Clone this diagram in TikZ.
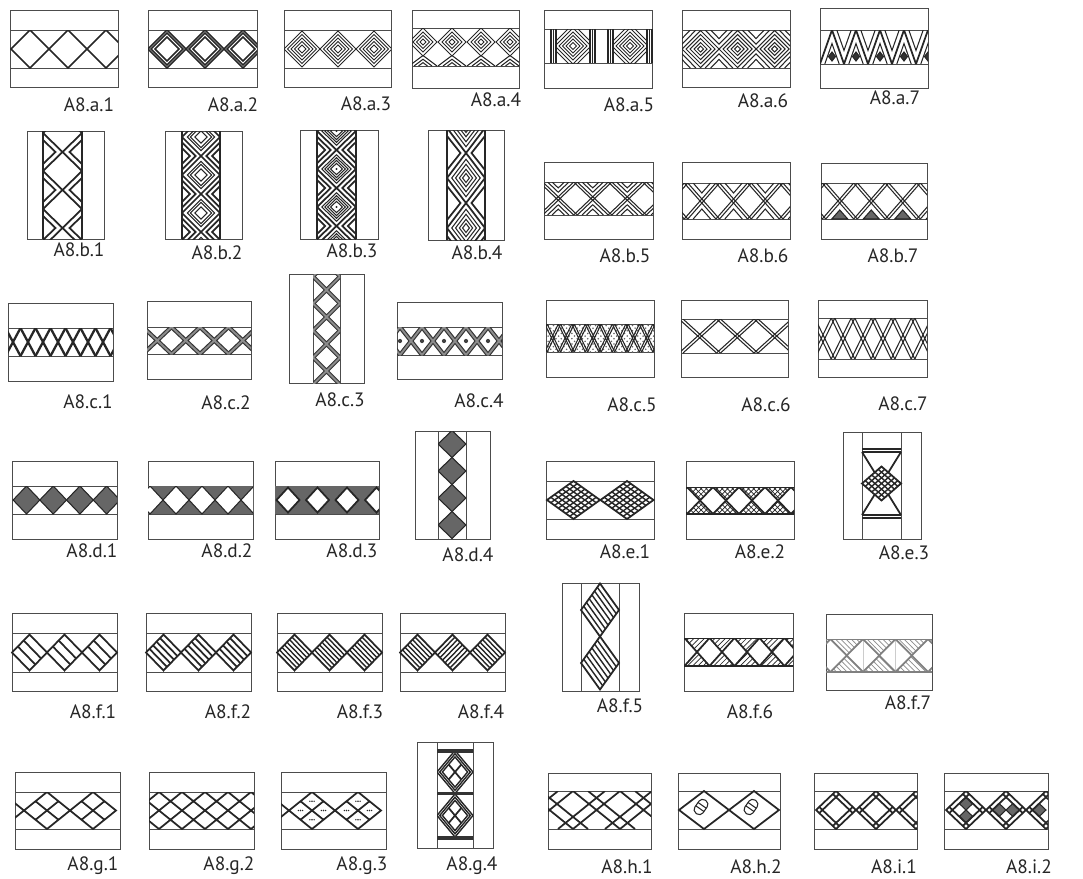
\documentclass[tikz,border=0pt]{standalone}
\usepackage{fontspec}
\setmainfont{PT Sans}
\usetikzlibrary{patterns}

\begin{document}
\begin{tikzpicture}[
    x=0.02cm, y=-0.02cm,
    frame/.style={draw=black!70, line width=0.55pt},
    strip/.style={draw=black!85, line width=0.9pt},
    motif/.style={draw=black!85, line width=1pt},
    fine/.style={draw=black!85, line width=0.6pt},
    ribbon/.style={draw=black!80, line width=2.4pt},
    ribbonfill/.style={draw=black!45, line width=1.1pt},
    bar/.style={draw=black!80, line width=1.8pt},
    dark/.style={fill=black!60},
    lbl/.style={font=\fontsize{11}{13}\selectfont, text=black!85, inner sep=0pt},
]
    \useasboundingbox (0,0) rectangle (1083,879);

    % row a
    \draw[frame] (10,10) rectangle (118,87) (10,30) -- (118,30) (10,68) -- (118,68);
    \begin{scope}
        \clip (10,30) rectangle (118,68);
        \foreach \c in {30,68,106}
            \draw[motif] ({\c-19},49) -- (\c,30) -- ({\c+19},49) -- (\c,68) -- cycle;
    \end{scope}
    \node[lbl] (a1) at (89,105) {A8.a.1};

    \draw[frame] (148,10) rectangle (257,87) (148,30) -- (257,30) (148,68) -- (257,68);
    \begin{scope}
        \clip (148,30) rectangle (257,68);
        \foreach \c in {167,205,243}
            \foreach \h in {19,16,12}
                \draw[motif] ({\c-\h},49) -- (\c,{49-\h}) -- ({\c+\h},49) -- (\c,{49+\h}) -- cycle;
    \end{scope}
    \node[lbl] (a2) at (233,105) {A8.a.2};

    \draw[frame] (284,10) rectangle (391,87) (284,30) -- (391,30) (284,68) -- (391,68);
    \begin{scope}
        \clip (284,30) rectangle (391,68);
        \foreach \c in {302,338,374}
            \foreach \h in {18,14.5,11,7.5,4}
                \draw[fine] ({\c-\h},49) -- (\c,{49-\h}) -- ({\c+\h},49) -- (\c,{49+\h}) -- cycle;
    \end{scope}
    \node[lbl] (a3) at (366,104) {A8.a.3};

    \draw[frame] (412,10) rectangle (519,88) (412,28) -- (519,28) (412,66) -- (519,66);
    \begin{scope}
        \clip (412,28) rectangle (519,66);
        \foreach \c in {423,452,481,510} {
            \foreach \h in {14,10,6.5,3}
                \draw[fine] ({\c-\h},42) -- (\c,{42-\h}) -- ({\c+\h},42) -- (\c,{42+\h}) -- cycle;
            \foreach \h in {14,9,4.5}
                \draw[fine] ({\c-\h},66) -- (\c,{66-0.75*\h}) -- ({\c+\h},66);
        }
    \end{scope}
    \node[lbl] (a4) at (496,100) {A8.a.4};

    \draw[frame] (544,10) rectangle (652,88) (544,29) -- (652,29) (544,63) -- (652,63);
    \foreach \c in {573,630} {
        \begin{scope}
            \clip ({\c-17},29) rectangle ({\c+17},63);
            \foreach \h in {3.5,7,10.5,14,18,22}
                \draw[fine] ({\c-\h},46) -- (\c,{46-\h}) -- ({\c+\h},46) -- (\c,{46+\h}) -- cycle;
        \end{scope}
        \foreach \d in {17,19.5,22}
            \draw[fine] ({\c-\d},29) -- ({\c-\d},63) ({\c+\d},29) -- ({\c+\d},63);
    }
    \node[lbl] (a5) at (629,105) {A8.a.5};

    \draw[frame] (682,10) rectangle (790,87) (682,30) -- (790,30) (682,68) -- (790,68);
    \begin{scope}
        \clip (682,30) rectangle (790,68);
        \foreach \c in {700.5,737.5,774.5}
            \foreach \h in {18.5,14.5,10.5,6.5,3}
                \draw[fine] ({\c-\h},49) -- (\c,{49-\h}) -- ({\c+\h},49) -- (\c,{49+\h}) -- cycle;
        \foreach \x in {682,719,756,793}
            \foreach \s in {0.75,0.45}
                \draw[fine] ({\x-18.5*\s},30) -- (\x,{30+19*\s}) -- ({\x+18.5*\s},30)
                            ({\x-18.5*\s},68) -- (\x,{68-19*\s}) -- ({\x+18.5*\s},68);
    \end{scope}
    \node[lbl] (a6) at (763,101) {A8.a.6};

    \draw[frame] (820,8) rectangle (928,88) (820,30) -- (928,30) (820,64) -- (928,64);
    \begin{scope}
        \clip (820,30) rectangle (928,64);
        \foreach \k in {0,...,4} {
            \draw[motif] ({820+24*\k},64) -- ({832+24*\k},30) -- ({844+24*\k},64);
            \draw[fine] ({824.8+24*\k},64) -- ({832+24*\k},43.6) -- ({839.2+24*\k},64)
                        ({836.8+24*\k},30) -- ({844+24*\k},50.4) -- ({851.2+24*\k},30);
            \draw[fine, fill=black!80] ({832+24*\k},52) -- ++(3.5,4.5) -- ++(-3.5,4.5) -- ++(-3.5,-4.5) -- cycle;
        }
    \end{scope}
    \node[lbl] (a7) at (895,98) {A8.a.7};

    % row b
    \draw[frame] (27,131) rectangle (104,239);
    \draw[strip] (43,131) -- (43,239) (82,131) -- (82,239);
    \begin{scope}
        \clip (43,131) rectangle (82,239);
        \foreach \k in {-1,...,3}
            \draw[motif] (43,{133+38*\k}) -- (82,{171+38*\k}) (82,{133+38*\k}) -- (43,{171+38*\k})
                         (43,{140+38*\k}) -- (55.5,{152+38*\k}) -- (43,{164+38*\k})
                         (82,{140+38*\k}) -- (69.5,{152+38*\k}) -- (82,{164+38*\k});
    \end{scope}
    \node[lbl] (b1) at (79,250) {A8.b.1};

    \draw[frame] (165,131) rectangle (242,239);
    \draw[strip] (182,131) -- (182,239) (220,131) -- (220,239);
    \begin{scope}
        \clip (182,131) rectangle (220,239);
        \foreach \k in {-1,...,3} {
            \draw[motif] (182,{137+38*\k}) -- (220,{175+38*\k}) (220,{137+38*\k}) -- (182,{175+38*\k});
            \foreach \s in {0.72,0.42}
                \draw[motif] (182,{156+38*\k-19*\s}) -- ({182+19*\s},{156+38*\k}) -- (182,{156+38*\k+19*\s})
                             (220,{156+38*\k-19*\s}) -- ({220-19*\s},{156+38*\k}) -- (220,{156+38*\k+19*\s});
            \foreach \s in {0.72,0.56,0.32}
                \draw[fine] ({201-19*\s},{137+38*\k}) -- (201,{137+38*\k-19*\s}) -- ({201+19*\s},{137+38*\k}) -- (201,{137+38*\k+19*\s}) -- cycle;
        }
    \end{scope}
    \node[lbl] (b2) at (217,253) {A8.b.2};

    \draw[frame] (300,130) rectangle (378,239);
    \draw[strip] (317,130) -- (317,239) (356,130) -- (356,239);
    \begin{scope}
        \clip (317,130) rectangle (356,239);
        \foreach \k in {-1,...,3} {
            \draw[motif] (317,{131+38*\k}) -- (356,{169+38*\k}) (356,{131+38*\k}) -- (317,{169+38*\k});
            \foreach \s in {0.7,0.42}
                \draw[motif] (317,{150+38*\k-19*\s}) -- ({317+19.5*\s},{150+38*\k}) -- (317,{150+38*\k+19*\s})
                             (356,{150+38*\k-19*\s}) -- ({356-19.5*\s},{150+38*\k}) -- (356,{150+38*\k+19*\s});
            \foreach \s in {0.75,0.6,0.45,0.3}
                \draw[fine] ({336.5-19.5*\s},{131+38*\k}) -- (336.5,{131+38*\k-19*\s}) -- ({336.5+19.5*\s},{131+38*\k}) -- (336.5,{131+38*\k+19*\s}) -- cycle;
            \fill[black!85] (336.5,{131+38*\k}) circle[radius=0.7pt];
        }
    \end{scope}
    \node[lbl] (b3) at (352,251) {A8.b.3};

    \draw[frame] (428,130) rectangle (504,240);
    \draw[strip] (447,130) -- (447,240) (485,130) -- (485,240);
    \begin{scope}
        \clip (447,130) rectangle (485,240);
        \foreach \k in {-1,...,2} {
            \draw[motif] (447,{128+50*\k}) -- (485,{178+50*\k}) (485,{128+50*\k}) -- (447,{178+50*\k});
            \draw[motif] (447,{153+50*\k-17}) -- (460.5,{153+50*\k}) -- (447,{153+50*\k+17})
                         (485,{153+50*\k-17}) -- (471.5,{153+50*\k}) -- (485,{153+50*\k+17});
            \foreach \s in {0.75,0.55,0.35,0.18}
                \draw[fine] ({466-19*\s},{128+50*\k}) -- (466,{128+50*\k-25*\s}) -- ({466+19*\s},{128+50*\k}) -- (466,{128+50*\k+25*\s}) -- cycle;
        }
    \end{scope}
    \node[lbl] (b4) at (477,253) {A8.b.4};

    \draw[frame] (544,162) rectangle (653,239) (544,182) -- (653,182) (544,215) -- (653,215);
    \begin{scope}
        \clip (544,182) rectangle (653,215);
        \foreach \k in {0,...,3} {
            \foreach \d in {-1.8,1.8}
                \draw[fine] ({541+34.5*\k+\d},182) -- ({575.5+34.5*\k+\d},215) ({541+34.5*\k+\d},215) -- ({575.5+34.5*\k+\d},182);
            \foreach \s in {0.62,0.36}
                \draw[fine] ({558.25+34.5*\k-17.25*\s},182) -- ({558.25+34.5*\k},{182+16.5*\s}) -- ({558.25+34.5*\k+17.25*\s},182)
                            ({558.25+34.5*\k-17.25*\s},215) -- ({558.25+34.5*\k},{215-16.5*\s}) -- ({558.25+34.5*\k+17.25*\s},215);
        }
    \end{scope}
    \node[lbl] (b5) at (625,256) {A8.b.5};

    \draw[frame] (682,162) rectangle (790,239) (682,183) -- (790,183) (682,219) -- (790,219);
    \begin{scope}
        \clip (682,183) rectangle (790,219);
        \foreach \k in {-1,...,3} {
            \foreach \d in {-1.8,1.8}
                \draw[fine] ({686+31.7*\k+\d},183) -- ({717.7+31.7*\k+\d},219) ({686+31.7*\k+\d},219) -- ({717.7+31.7*\k+\d},183);
            \draw[fine] ({701.85+31.7*\k-8.7},183) -- ({701.85+31.7*\k},193) -- ({701.85+31.7*\k+8.7},183)
                        ({701.85+31.7*\k-8.7},219) -- ({701.85+31.7*\k},209) -- ({701.85+31.7*\k+8.7},219);
        }
    \end{scope}
    \node[lbl] (b6) at (763,256) {A8.b.6};

    \draw[frame] (821,163) rectangle (927,239) (821,183) -- (927,183) (821,219) -- (927,219);
    \begin{scope}
        \clip (821,183) rectangle (927,219);
        \foreach \k in {-1,...,3} {
            \foreach \d in {-1.8,1.8}
                \draw[fine] ({824+31.5*\k+\d},183) -- ({855.5+31.5*\k+\d},219) ({824+31.5*\k+\d},219) -- ({855.5+31.5*\k+\d},183);
            \draw[fine, dark] ({839.75+31.5*\k-8},219) -- ({839.75+31.5*\k},210) -- ({839.75+31.5*\k+8},219) -- cycle;
        }
    \end{scope}
    \node[lbl] (b7) at (893,256) {A8.b.7};

    % row c
    \draw[frame] (8,303) rectangle (113,381) (8,328) -- (113,328) (8,356) -- (113,356);
    \begin{scope}
        \clip (8,328) rectangle (113,356);
        \foreach \k in {0,...,7}
            \draw[motif, line width=1.3pt] ({5.5+15*\k},328) -- ({20.5+15*\k},356) ({5.5+15*\k},356) -- ({20.5+15*\k},328);
    \end{scope}
    \node[lbl] (c1) at (88,402) {A8.c.1};

    \draw[frame] (147,301) rectangle (251,379) (147,327) -- (251,327) (147,354) -- (251,354);
    \begin{scope}
        \clip (147,327) rectangle (251,354);
        \foreach \st in {ribbon,ribbonfill}
            \foreach \k in {0,...,4}
                \draw[\st] ({143+28.5*\k},327) -- ({171.5+28.5*\k},354) ({143+28.5*\k},354) -- ({171.5+28.5*\k},327);
    \end{scope}
    \node[lbl] (c2) at (226,403) {A8.c.2};

    \draw[frame] (289,274) rectangle (364,383) (313,274) -- (313,383) (340,274) -- (340,383);
    \begin{scope}
        \clip (313,274) rectangle (340,383);
        \foreach \st in {ribbon,ribbonfill}
            \foreach \k in {-1,...,4}
                \draw[\st] (313,{276.5+27*\k}) -- (340,{303.5+27*\k}) (340,{276.5+27*\k}) -- (313,{303.5+27*\k});
    \end{scope}
    \node[lbl] (c3) at (340,400) {A8.c.3};

    \draw[frame] (397,302) rectangle (502,379) (397,327) -- (502,327) (397,355) -- (502,355);
    \begin{scope}
        \clip (397,327) rectangle (502,355);
        \foreach \st in {ribbon,ribbonfill}
            \foreach \k in {-1,...,4}
                \draw[\st] ({400+22*\k},327) -- ({422+22*\k},355) ({400+22*\k},355) -- ({422+22*\k},327);
        \foreach \k in {0,...,4}
            \fill[black!75] ({400+22*\k},341) circle[radius=1.2pt];
    \end{scope}
    \node[lbl] (c4) at (479,401) {A8.c.4};

    \draw[frame] (546,300) rectangle (654,377) (546,324) -- (654,324) (546,352) -- (654,352);
    \begin{scope}
        \clip (546,324) rectangle (654,352);
        \fill[pattern=crosshatch dots, pattern color=black!60] (546,324) rectangle (654,352);
        \foreach \k in {-1,...,8}
            \foreach \d in {-1.2,1.2}
                \draw[fine] ({546+13.5*\k+\d},324) -- ({559.5+13.5*\k+\d},352) ({546+13.5*\k+\d},352) -- ({559.5+13.5*\k+\d},324);
    \end{scope}
    \node[lbl] (c5) at (632,405) {A8.c.5};

    \draw[frame] (681,300) rectangle (788,377) (681,319) -- (788,319) (681,353) -- (788,353);
    \begin{scope}
        \clip (681,319) rectangle (788,353);
        \foreach \k in {0,...,2}
            \foreach \d in {-2,2}
                \draw[fine] ({681+37.5*\k+\d},319) -- ({718.5+37.5*\k+\d},353) ({681+37.5*\k+\d},353) -- ({718.5+37.5*\k+\d},319);
    \end{scope}
    \node[lbl] (c6) at (766,405) {A8.c.6};

    \draw[frame] (818,300) rectangle (927,377) (818,318) -- (927,318) (818,359) -- (927,359);
    \begin{scope}
        \clip (818,318) rectangle (927,359);
        \foreach \k in {0,...,5}
            \foreach \d in {-1.8,1.8}
                \draw[fine] ({813+20*\k+\d},318) -- ({833+20*\k+\d},359) ({813+20*\k+\d},359) -- ({833+20*\k+\d},318);
    \end{scope}
    \node[lbl] (c7) at (903,404) {A8.c.7};

    % row d
    \draw[frame] (12,461) rectangle (117,539) (12,486) -- (117,486) (12,514) -- (117,514);
    \begin{scope}
        \clip (12,486) rectangle (117,514);
        \foreach \c in {26.5,53.2,79.9,106.6}
            \draw[fine, dark] ({\c-13.4},500) -- (\c,486) -- ({\c+13.4},500) -- (\c,514) -- cycle;
    \end{scope}
    \node[lbl] (d1) at (92,551) {A8.d.1};

    \draw[frame] (148,461) rectangle (253,539) (148,486) -- (253,486) (148,514) -- (253,514);
    \begin{scope}
        \clip (148,486) rectangle (253,514);
        \fill[black!60] (148,486) rectangle (253,514);
        \foreach \c in {150,176,202,228,254}
            \draw[fine, fill=white] ({\c-13},500) -- (\c,486) -- ({\c+13},500) -- (\c,514) -- cycle;
    \end{scope}
    \node[lbl] (d2) at (227,551) {A8.d.2};

    \draw[frame] (275,461) rectangle (379,539) (275,486) -- (379,486) (275,514) -- (379,514);
    \begin{scope}
        \clip (275,486) rectangle (379,514);
        \fill[black!60] (275,486) rectangle (379,514);
        \foreach \c in {288,317.5,347,376.5}
            \draw[motif, fill=white] ({\c-11.5},500) -- (\c,487.5) -- ({\c+11.5},500) -- (\c,512.5) -- cycle;
    \end{scope}
    \node[lbl] (d3) at (352,551) {A8.d.3};

    \draw[frame] (415,431) rectangle (490,539) (438,431) -- (438,539) (466,431) -- (466,539);
    \begin{scope}
        \clip (438,431) rectangle (466,539);
        \foreach \y in {444,471,498,525}
            \draw[fine, dark] (438,\y) -- (452,{\y-13.5}) -- (466,\y) -- (452,{\y+13.5}) -- cycle;
    \end{scope}
    \node[lbl] (d4) at (468,555) {A8.d.4};

    % row e
    \draw[frame] (546,461) rectangle (654,539) (546,481) -- (654,481) (546,519) -- (654,519);
    \foreach \c in {573.5,627} {
        \begin{scope}
            \clip ({\c-26.5},500) -- (\c,481) -- ({\c+26.5},500) -- (\c,519) -- cycle;
            \foreach \i in {1,...,6}
                \draw[motif, line width=0.8pt] ({\c-26.5+26.5*\i/7},{500+19*\i/7}) -- ({\c+26.5*\i/7},{481+19*\i/7})
                    ({\c-26.5+26.5*\i/7},{500-19*\i/7}) -- ({\c+26.5*\i/7},{519-19*\i/7});
        \end{scope}
        \draw[motif] ({\c-26.5},500) -- (\c,481) -- ({\c+26.5},500) -- (\c,519) -- cycle;
    }
    \node[lbl] (e1) at (625,552) {A8.e.1};

    \draw[frame] (686,461) rectangle (794,539) (686,487) -- (794,487) (686,514) -- (794,514);
    \begin{scope}
        \clip (686,487) rectangle (794,514);
        \foreach \k in {-1,...,4}
            \draw[motif, pattern=crosshatch, pattern color=black!85]
                ({687+26*\k},487) -- ({713+26*\k},487) -- ({700+26*\k},500.5) -- cycle
                ({687+26*\k},514) -- ({713+26*\k},514) -- ({700+26*\k},500.5) -- cycle;
    \end{scope}
    \node[lbl] (e2) at (760,552) {A8.e.2};

    \draw[frame] (843,432) rectangle (921,539) (862,432) -- (862,539) (901,432) -- (901,539);
    \draw[motif] (862,449) -- (901,449) (862,452) -- (901,452) (862,515) -- (901,515) (862,518) -- (901,518)
                 (862,452) -- (901,515) (901,452) -- (862,515);
    \begin{scope}
        \clip (862,483.5) -- (881.5,466.5) -- (901,483.5) -- (881.5,500.5) -- cycle;
        \fill[white] (862,466) rectangle (901,501);
        \foreach \i in {1,...,5}
            \draw[motif, line width=0.8pt] ({862+19.5*\i/6},{483.5+17*\i/6}) -- ({881.5+19.5*\i/6},{466.5+17*\i/6})
                ({862+19.5*\i/6},{483.5-17*\i/6}) -- ({881.5+19.5*\i/6},{500.5-17*\i/6});
    \end{scope}
    \draw[motif] (862,483.5) -- (881.5,466.5) -- (901,483.5) -- (881.5,500.5) -- cycle;
    \node[lbl] (e3) at (904,553) {A8.e.3};

    % row f
    \draw[frame] (12,613) rectangle (117,691) (12,633) -- (117,633) (12,672) -- (117,672);
    \foreach \c in {29.5,64.5,99.5} {
        \draw[motif] ({\c-17.5},652.5) -- (\c,634.5) -- ({\c+17.5},652.5) -- (\c,670.5) -- cycle;
        \foreach \i in {1,2}
            \draw[motif] ({\c-17.5+17.5*\i/3},{652.5-18*\i/3}) -- ({\c+17.5*\i/3},{670.5-18*\i/3});
    }
    \node[lbl] (f1) at (93,712) {A8.f.1};

    \draw[frame] (146,613) rectangle (251,691) (146,633) -- (251,633) (146,672) -- (251,672);
    \foreach \c in {163.5,198.5,233.5} {
        \draw[motif] ({\c-17.5},652.5) -- (\c,634.5) -- ({\c+17.5},652.5) -- (\c,670.5) -- cycle;
        \foreach \i in {1,...,4}
            \draw[motif] ({\c-17.5+17.5*\i/5},{652.5-18*\i/5}) -- ({\c+17.5*\i/5},{670.5-18*\i/5});
    }
    \node[lbl] (f2) at (228,712) {A8.f.2};

    \draw[frame] (277,613) rectangle (382,691) (277,633) -- (382,633) (277,672) -- (382,672);
    \foreach \c in {294.5,329.5,364.5} {
        \draw[motif] ({\c-17.5},652.5) -- (\c,634.5) -- ({\c+17.5},652.5) -- (\c,670.5) -- cycle;
        \foreach \i in {1,...,6}
            \draw[fine, line width=0.8pt] ({\c-17.5+17.5*\i/7},{652.5-18*\i/7}) -- ({\c+17.5*\i/7},{670.5-18*\i/7});
    }
    \node[lbl] (f3) at (360,712) {A8.f.3};

    \draw[frame] (400,613) rectangle (505,691) (400,633) -- (505,633) (400,672) -- (505,672);
    \foreach \c in {417.5,452.5,487.5}
        \draw[motif] ({\c-17.5},652.5) -- (\c,634.5) -- ({\c+17.5},652.5) -- (\c,670.5) -- cycle;
    \foreach \c in {417.5,487.5}
        \foreach \i in {1,...,6}
            \draw[fine, line width=0.8pt] ({\c-17.5+17.5*\i/7},{652.5-18*\i/7}) -- ({\c+17.5*\i/7},{670.5-18*\i/7});
    \foreach \i in {1,...,6}
        \draw[fine, line width=0.8pt] ({435+17.5*\i/7},{652.5+18*\i/7}) -- ({452.5+17.5*\i/7},{634.5+18*\i/7});
    \node[lbl] (f4) at (481,712) {A8.f.4};

    \draw[frame] (562,583) rectangle (639,691) (581,583) -- (581,691) (619,583) -- (619,691);
    \foreach \y in {610,663} {
        \draw[motif] (581,\y) -- (600,{\y-26.5}) -- (619,\y) -- (600,{\y+26.5}) -- cycle;
        \foreach \i in {1,...,6}
            \draw[fine, line width=0.8pt] ({581+19*\i/7},{\y-26.5*\i/7}) -- ({600+19*\i/7},{\y+26.5-26.5*\i/7});
    }
    \node[lbl] (f5) at (620,706) {A8.f.5};

    \draw[frame] (684,613) rectangle (793,691) (684,638) -- (793,638) (684,666) -- (793,666);
    \begin{scope}
        \clip (684,638) rectangle (793,666);
        \foreach \k in {-1,...,4}
            \draw[motif, pattern=north east lines, pattern color=black!85]
                ({684.5+25*\k},638) -- ({709.5+25*\k},638) -- ({697+25*\k},652) -- cycle
                ({684.5+25*\k},666) -- ({709.5+25*\k},666) -- ({697+25*\k},652) -- cycle;
    \end{scope}
    \node[lbl] (f6) at (750,712) {A8.f.6};

    \draw[frame] (826,614) rectangle (932,690) (826,639) -- (932,639) (826,672) -- (932,672);
    \begin{scope}
        \clip (826,639) rectangle (932,672);
        \draw[black!20, line width=0.4pt] (863,639) -- (863,672) (895.5,639) -- (895.5,672);
        \foreach \k in {-1,...,3}
            \draw[draw=black!50, line width=1pt, pattern=north west lines, pattern color=black!45]
                ({830.5+32.5*\k},639) -- ({863+32.5*\k},639) -- ({846.75+32.5*\k},655.5) -- cycle
                ({830.5+32.5*\k},672) -- ({863+32.5*\k},672) -- ({846.75+32.5*\k},655.5) -- cycle;
    \end{scope}
    \node[lbl] (f7) at (908,703) {A8.f.7};

    % row g
    \draw[frame] (15,772) rectangle (120,849) (15,792) -- (120,792) (15,829) -- (120,829);
    \begin{scope}
        \clip (15,792) rectangle (120,829);
        \foreach \c in {1,47,93}
            \draw[motif] ({\c-23},810.5) -- (\c,792) -- ({\c+23},810.5) -- (\c,829) -- cycle
                ({\c-11.5},801.25) -- ({\c+11.5},819.75) ({\c-11.5},819.75) -- ({\c+11.5},801.25);
    \end{scope}
    \node[lbl] (g1) at (93,866) {A8.g.1};

    \draw[frame] (149,772) rectangle (254,849) (149,792) -- (254,792) (149,829) -- (254,829);
    \begin{scope}
        \clip (149,792) rectangle (254,829);
        \foreach \c in {136,182,228,274}
            \draw[motif] ({\c-23},810.5) -- (\c,792) -- ({\c+23},810.5) -- (\c,829) -- cycle
                ({\c-23},792) -- ({\c+23},829) ({\c-23},829) -- ({\c+23},792);
    \end{scope}
    \node[lbl] (g2) at (229,866) {A8.g.2};

    \draw[frame] (281,772) rectangle (386,849) (281,792) -- (386,792) (281,829) -- (386,829);
    \begin{scope}
        \clip (281,792) rectangle (386,829);
        \foreach \c in {266,312,358}
            \draw[motif] ({\c-23},810.5) -- (\c,792) -- ({\c+23},810.5) -- (\c,829) -- cycle
                ({\c-11.5},801.25) -- ({\c+11.5},819.75) ({\c-11.5},819.75) -- ({\c+11.5},801.25);
        \foreach \c in {312,358}
            \foreach \x/\y in {0/801.25,0/819.75,-11.5/810.5,11.5/810.5}
                \foreach \d in {-2.2,0,2.2}
                    \fill[black!85] ({\c+\x+\d},\y) circle[radius=0.45pt];
    \end{scope}
    \node[lbl] (g3) at (362,866) {A8.g.3};

    \draw[frame] (417,742) rectangle (493,848) (437,742) -- (437,848) (473,742) -- (473,848);
    \begin{scope}
        \clip (437,742) rectangle (473,848);
        \foreach \y in {772,815.5} {
            \foreach \s in {1,0.85,0.7}
                \draw[fine, line width=0.8pt] ({455-18*\s},\y) -- (455,{\y-21.5*\s}) -- ({455+18*\s},\y) -- (455,{\y+21.5*\s}) -- cycle;
            \draw[motif] ({455-6.3},{\y-7.5}) -- ({455+6.3},{\y+7.5}) ({455-6.3},{\y+7.5}) -- ({455+6.3},{\y-7.5});
        }
        \draw[bar] (437,751) -- (473,751) (437,793.5) -- (473,793.5) (437,838) -- (473,838);
    \end{scope}
    \node[lbl] (g4) at (472,866) {A8.g.4};

    % rows h, i
    \draw[frame] (548,773) rectangle (651,849) (548,791) -- (651,791) (548,829) -- (651,829);
    \begin{scope}
        \clip (548,791) rectangle (651,829);
        \foreach \k in {-1,...,2}
            \draw[motif] ({573+47*\k},791) -- ({620+47*\k},829) ({573+47*\k},829) -- ({620+47*\k},791)
                ({588+47*\k},791) -- ({635+47*\k},829) ({558+47*\k},829) -- ({605+47*\k},791);
    \end{scope}
    \node[lbl] (h1) at (627,867) {A8.h.1};

    \draw[frame] (678,773) rectangle (780,849) (678,791) -- (780,791) (678,829) -- (780,829);
    \foreach \c in {704,754} {
        \draw[motif] ({\c-25},810) -- (\c,791) -- ({\c+25},810) -- (\c,829) -- cycle;
        \draw[fine, rotate around={55:({\c-3},807)}, rounded corners=2.5pt] ({\c-11},802) rectangle ({\c+5},812);
        \draw[fine, rotate around={55:({\c-3},807)}] ({\c-5},802) -- ({\c-5},812) ({\c-1},802) -- ({\c-1},812);
    }
    \node[lbl] (h2) at (756,867) {A8.h.2};

    \draw[frame] (814,773) rectangle (917,849) (814,791) -- (917,791) (814,829) -- (917,829);
    \begin{scope}
        \clip (814,791) rectangle (917,829);
        \foreach \c in {836,876,916} {
            \begin{scope}
                \clip ({\c-20},810) -- (\c,791) -- ({\c+20},810) -- (\c,829) -- cycle;
                \draw[motif] ({\c-27.2},822.9) -- ({\c+13.6},784.2) ({\c-13.6},784.2) -- ({\c+27.2},822.9)
                    ({\c+27.2},797.1) -- ({\c-13.6},835.8) ({\c+13.6},835.8) -- ({\c-27.2},797.1);
            \end{scope}
            \draw[motif] ({\c-20},810) -- (\c,791) -- ({\c+20},810) -- (\c,829) -- cycle;
        }
    \end{scope}
    \node[lbl] (i1) at (894,867) {A8.i.1};

    \draw[frame] (944,773) rectangle (1048,849) (944,791) -- (1048,791) (944,829) -- (1048,829);
    \begin{scope}
        \clip (944,791) rectangle (1048,829);
        \foreach \x/\y in {966/803.55,966/816.45,999.2/810,1012.8/810,1039.2/810}
            \draw[fine, dark] ({\x-6.8},\y) -- (\x,{\y-6.45}) -- ({\x+6.8},\y) -- (\x,{\y+6.45}) -- cycle;
        \foreach \c in {966,1006,1046} {
            \begin{scope}
                \clip ({\c-20},810) -- (\c,791) -- ({\c+20},810) -- (\c,829) -- cycle;
                \draw[motif] ({\c-27.2},822.9) -- ({\c+13.6},784.2) ({\c-13.6},784.2) -- ({\c+27.2},822.9)
                    ({\c+27.2},797.1) -- ({\c-13.6},835.8) ({\c+13.6},835.8) -- ({\c-27.2},797.1);
            \end{scope}
            \draw[motif] ({\c-20},810) -- (\c,791) -- ({\c+20},810) -- (\c,829) -- cycle;
        }
    \end{scope}
    \node[lbl] (i2) at (1029,867) {A8.i.2};
\end{tikzpicture}
\end{document}
